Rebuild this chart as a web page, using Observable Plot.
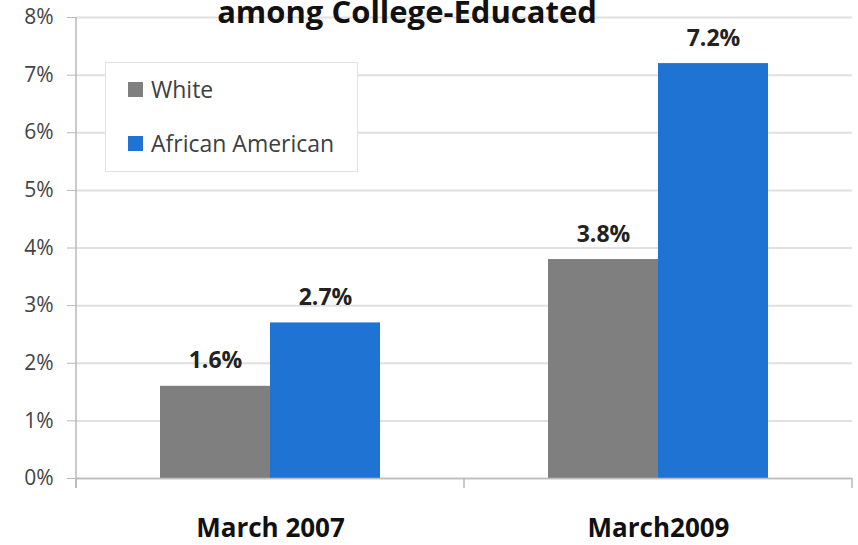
<!DOCTYPE html>
<html>
<head>
<meta charset="utf-8">
<script src="https://cdn.jsdelivr.net/npm/d3@7"></script>
<script src="https://cdn.jsdelivr.net/npm/@observablehq/plot@0.6"></script>
<style>
  body { margin: 0; background: #fff; }
  #wrap { position: relative; width: 858px; height: 545px; font-family: "Open Sans", sans-serif; }
  #legend {
    position: absolute; left: 105px; top: 62px; width: 253px; height: 110px;
    background: #fff; border: 1px solid #e2e2e2; box-sizing: border-box;
  }
  .item { position: absolute; left: 22px; display: flex; align-items: center; font-size: 23px; color: #404040; }
  .sw { width: 15px; height: 15px; margin-right: 8px; }
</style>
</head>
<body>
<div id="wrap"></div>
<script>
// Unemployment rate among college-educated workers, by race
const periods = ["March 2007", "March2009"];
const groups = ["White", "African American"];
const whiteRate = [1.6, 3.8];
const africanAmericanRate = [2.7, 7.2];
const yTicks = [0, 1, 2, 3, 4, 5, 6, 7, 8];
const colors = ["#7f7f7f", "#1e73d3"];
const title = "among College-Educated";

const rows = periods.flatMap((p, i) => [
  {period: p, group: groups[0], value: whiteRate[i]},
  {period: p, group: groups[1], value: africanAmericanRate[i]}
]);

const plot = Plot.plot({
  width: 858,
  height: 545,
  marginLeft: 75,
  marginRight: 6,
  marginTop: 17,
  marginBottom: 67,
  style: {fontFamily: "'Open Sans', sans-serif", background: "white", overflow: "visible"},
  fx: {domain: periods, padding: 0, label: null, axis: null},
  x: {domain: groups, paddingInner: 0, paddingOuter: 0.75, axis: null},
  y: {domain: [0, 8], axis: null, label: null},
  color: {domain: groups, range: colors},
  marks: [
    Plot.ruleY(yTicks, {stroke: "#e0e0e0", strokeWidth: 2}),
    Plot.axisY(yTicks, {
      tickSize: 9, tickPadding: 14, tickFormat: d => d + "%",
      stroke: "#b8b8b8", fill: "#444", fontSize: 21, label: null
    }),
    Plot.barY(rows, {fx: "period", x: "group", y: "value", fill: "group"}),
    Plot.ruleY([0], {stroke: "#bdbdbd", strokeWidth: 1.5}),
    Plot.text(rows, {
      fx: "period", x: "group", y: "value",
      text: d => d.value.toFixed(1) + "%",
      lineAnchor: "bottom", dy: -18,
      fontWeight: "bold", fontSize: 23, fill: "#222"
    }),
    // Category labels under each group
    Plot.text(periods, {
      fx: d => d, text: d => d, frameAnchor: "bottom",
      lineAnchor: "top", dy: 40,
      fontWeight: "bold", fontSize: 26, fill: "#111"
    })
  ]
});

// Axis lines and category dividers drawn from the plot's own scales
const svg = d3.select(plot);
const y = plot.scale("y");
const fx = plot.scale("fx");
const y0 = y.apply(0);
const left = fx.apply(periods[0]);
const edges = [left, ...periods.map(p => fx.apply(p) + fx.bandwidth)];

svg.append("line")
  .attr("x1", left).attr("x2", left)
  .attr("y1", y.apply(8)).attr("y2", y0 + 10)
  .attr("stroke", "#b8b8b8").attr("stroke-width", 1.5);

svg.selectAll("line.edge").data(edges).join("line")
  .attr("class", "edge")
  .attr("x1", d => d).attr("x2", d => d)
  .attr("y1", y0).attr("y2", y0 + 10)
  .attr("stroke", "#b8b8b8").attr("stroke-width", 1.5);

svg.append("text")
  .attr("x", 407).attr("y", 23)
  .attr("text-anchor", "middle")
  .attr("font-size", 31).attr("font-weight", "bold").attr("fill", "#111")
  .text(title);

const wrap = document.getElementById("wrap");
wrap.appendChild(plot);

// Legend box
const legend = document.createElement("div");
legend.id = "legend";
groups.forEach((g, i) => {
  const item = document.createElement("div");
  item.className = "item";
  item.style.top = (i === 0 ? 10 : 64) + "px";
  item.innerHTML = `<span class="sw" style="background:${colors[i]}"></span><span>${g}</span>`;
  legend.appendChild(item);
});
wrap.appendChild(legend);
</script>
</body>
</html>
